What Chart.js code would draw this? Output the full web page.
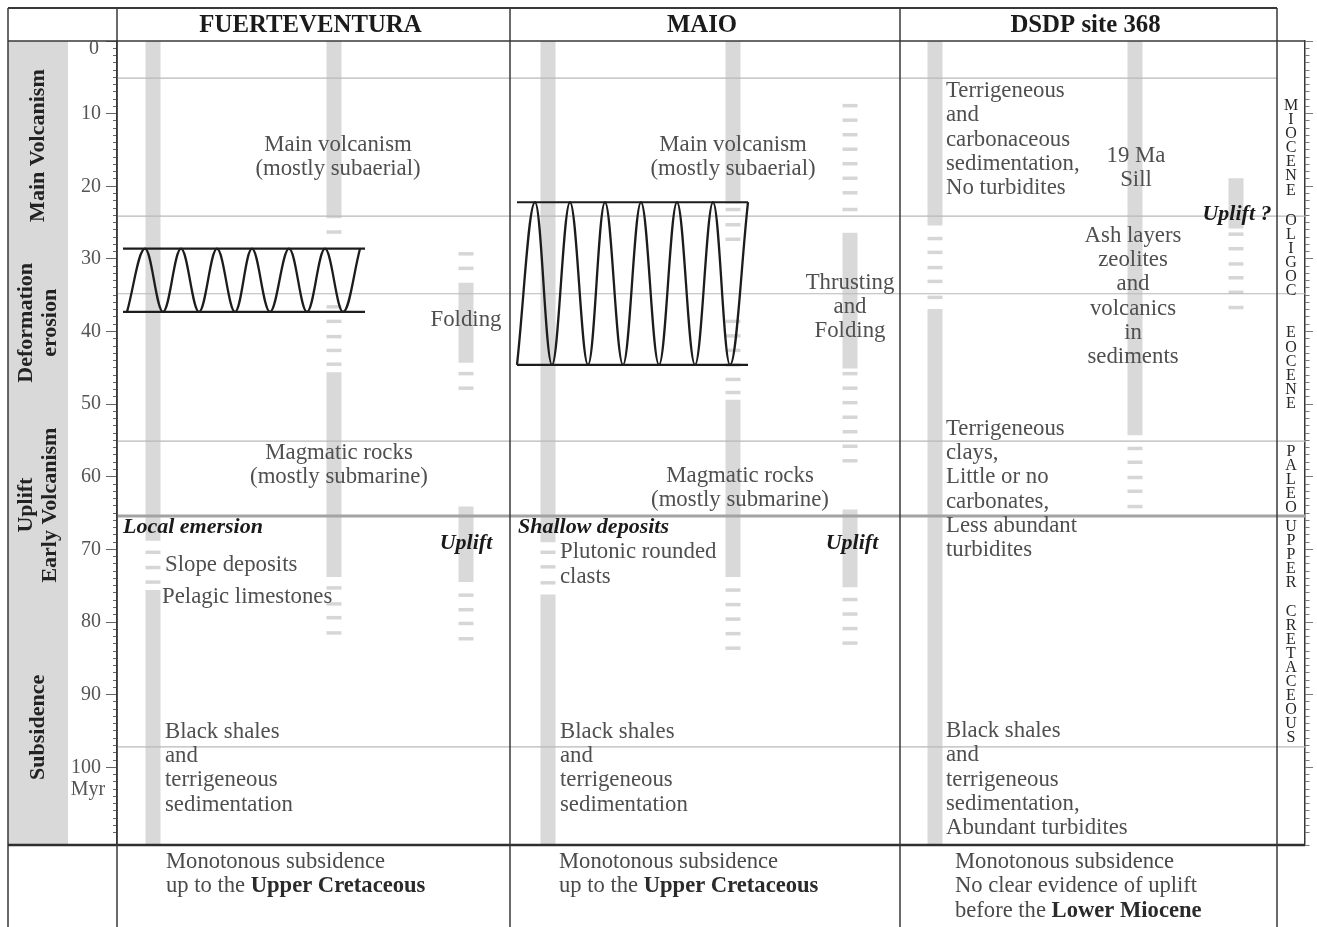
<!DOCTYPE html>
<html>
<head>
<meta charset="utf-8">
<script src="https://cdn.jsdelivr.net/npm/chart.js@4.4.0/dist/chart.umd.min.js"></script>
<style>
html,body{margin:0;padding:0;background:#fff;}
#c{display:block;}
</style>
</head>
<body>
<canvas id="c" width="1317" height="927"></canvas>
<script>
// ---------------- DATA (ages in Myr) ----------------
const columnTitles = ['FUERTEVENTURA', 'MAIO', 'DSDP site 368'];
const ageMin = 0;
const ageMax = 110.7;
const stageNames = [['Main Volcanism'], ['Deformation', 'erosion'], ['Uplift', 'Early Volcanism'], ['Subsidence']];
const stageMidAges = [14.4, 38.8, 63.9, 94.5];
const boundaryAges = [5.1, 24.1, 34.8, 55.1, 65.4, 97.2];
const epochNames = ['MIOCENE', 'OLIGOC', 'EOCENE', 'PALEO', 'UPPER CRETACEOUS'];
const epochTopAges = [5.1, 24.1, 34.8, 55.1, 65.4];
const epochBaseAges = [24.1, 34.8, 55.1, 65.4, 97.2];

// record columns: continuous intervals [top, base] and isolated (sparse) levels
const fv1Solid = [[0, 68.8], [75.6, 110.7]];
const fv1Dash = [70.4, 72.5, 74.5];
const fv2Solid = [[0, 24.4], [45.6, 73.8]];
const fv2Dash = [26.3, 36.6, 38.6, 40.7, 42.6, 44.5, 75.3, 77.5, 79.4, 81.5];
const fv3Solid = [[33.3, 44.3], [64.1, 74.5]];
const fv3Dash = [29.3, 31.3, 45.8, 47.8, 76.3, 78.3, 80.2, 82.3];
const ma1Solid = [[0, 69.0], [76.2, 110.7]];
const ma1Dash = [70.4, 72.4, 74.6];
const ma2Solid = [[0, 22.4], [49.4, 73.8]];
const ma2Dash = [23.2, 25.3, 27.3, 38.6, 40.6, 42.6, 44.6, 46.6, 48.4, 75.6, 77.6, 79.6, 81.6, 83.6];
const ma3Solid = [[26.4, 45.1], [64.5, 75.2]];
const ma3Dash = [8.9, 10.9, 12.9, 14.9, 16.9, 18.9, 20.9, 23.2, 45.8, 47.8, 49.8, 51.8, 53.8, 55.8, 57.8, 76.9, 78.9, 80.9, 82.9];
const ds1Solid = [[0, 25.4], [36.9, 110.7]];
const ds1Dash = [27.2, 29.1, 31.2, 33.1, 35.3];
const ds2Solid = [[0, 54.3]];
const ds2Dash = [56.1, 58.0, 60.1, 62.0, 64.1];
const ds3Solid = [[18.9, 25.8]];
const ds3Dash = [26.6, 28.6, 30.7, 32.6, 34.6, 36.7];

// folding symbols: top and base ages
const foldFvTop = 28.6, foldFvBase = 37.3;
const foldMaTop = 22.2, foldMaBase = 44.6;

// text notes: lines, age of first line
const notes = [
  {id: 'fvMain', lines: ['Main volcanism', '(mostly subaerial)'], age: 14.3},
  {id: 'fvFold', lines: ['Folding'], age: 38.4},
  {id: 'fvMag', lines: ['Magmatic rocks', '(mostly submarine)'], age: 56.7},
  {id: 'fvEmer', lines: ['Local emersion'], age: 66.9},
  {id: 'fvUp', lines: ['Uplift'], age: 69.1},
  {id: 'fvSlope', lines: ['Slope deposits'], age: 72.1},
  {id: 'fvPel', lines: ['Pelagic limestones'], age: 76.6},
  {id: 'fvBlack', lines: ['Black shales', 'and', 'terrigeneous', 'sedimentation'], age: 95.1},
  {id: 'maMain', lines: ['Main volcanism', '(mostly subaerial)'], age: 14.3},
  {id: 'maThrust', lines: ['Thrusting', 'and', 'Folding'], age: 33.3},
  {id: 'maMag', lines: ['Magmatic rocks', '(mostly submarine)'], age: 59.9},
  {id: 'maShallow', lines: ['Shallow deposits'], age: 66.9},
  {id: 'maUp', lines: ['Uplift'], age: 69.1},
  {id: 'maPlut', lines: ['Plutonic rounded', 'clasts'], age: 70.4},
  {id: 'maBlack', lines: ['Black shales', 'and', 'terrigeneous', 'sedimentation'], age: 95.1},
  {id: 'dsTerr', lines: ['Terrigeneous', 'and', 'carbonaceous', 'sedimentation,', 'No turbidites'], age: 6.9},
  {id: 'dsSill', lines: ['19 Ma', 'Sill'], age: 15.8},
  {id: 'dsUp', lines: ['Uplift ?'], age: 23.8},
  {id: 'dsAsh', lines: ['Ash layers', 'zeolites', 'and', 'volcanics', 'in', 'sediments'], age: 26.8},
  {id: 'dsClay', lines: ['Terrigeneous', 'clays,', 'Little or no', 'carbonates,', 'Less abundant', 'turbidites'], age: 53.4},
  {id: 'dsBlack', lines: ['Black shales', 'and', 'terrigeneous', 'sedimentation,', 'Abundant turbidites'], age: 95.0}
];

const footerNotes = [
  [[['Monotonous subsidence', false]], [['up to the ', false], ['Upper Cretaceous', true]]],
  [[['Monotonous subsidence', false]], [['up to the ', false], ['Upper Cretaceous', true]]],
  [[['Monotonous subsidence', false]], [['No clear evidence of uplift', false]], [['before the ', false], ['Lower Miocene', true]]]
];

// ---------------- LAYOUT & STYLE (layout units across the plot) ----------------
const SERIF = "'Liberation Serif', 'Times New Roman', serif";
const BAR_GREY = '#d9d9d9';
const DASH_GREY = '#d6d6d6';
const LAYOUT = {
  xMax: 1188,
  columnEdges: [0, 393, 783, 1160],
  epochEdge: 1188,
  epochLetterX: 1174,
  trackX: {fv1: 36, fv2: 217, fv3: 349, ma1: 431, ma2: 616, ma3: 733, ds1: 818, ds2: 1018, ds3: 1119},
  foldFvX: [10, 28, 46, 64, 82, 100, 118, 135, 153, 172, 190, 208, 226, 243],
  foldFvLine: [6, 248],
  foldMaX: [400, 418, 435, 453, 471, 488, 506, 524, 542, 560, 578, 596, 613, 631],
  foldMaLine: [400, 631],
  boundaryEnd: [1160, 1188, 1188, 1188, 1188, 1188],
  heavyBoundary: 4,
  noteX: {
    fvMain: [221, 'center'], fvFold: [349, 'center'], fvMag: [222, 'center'], fvEmer: [6, 'left', 'bi'],
    fvUp: [349, 'center', 'bi'], fvSlope: [48, 'left'], fvPel: [45, 'left'], fvBlack: [48, 'left'],
    maMain: [616, 'center'], maThrust: [733, 'center'], maMag: [623, 'center'], maShallow: [401, 'left', 'bi'],
    maUp: [735, 'center', 'bi'], maPlut: [443, 'left'], maBlack: [443, 'left'],
    dsTerr: [829, 'left'], dsSill: [1019, 'center'], dsUp: [1120, 'center', 'bi'], dsAsh: [1016, 'center'],
    dsClay: [829, 'left'], dsBlack: [829, 'left']
  },
  footerX: [49, 442, 838],
  lineHeight: 24.3
};

// ---------------- DATASETS ----------------
const datasets = [];
const tracks = [
  ['fv1', fv1Solid, fv1Dash], ['fv2', fv2Solid, fv2Dash], ['fv3', fv3Solid, fv3Dash],
  ['ma1', ma1Solid, ma1Dash], ['ma2', ma2Solid, ma2Dash], ['ma3', ma3Solid, ma3Dash],
  ['ds1', ds1Solid, ds1Dash], ['ds2', ds2Solid, ds2Dash], ['ds3', ds3Solid, ds3Dash]
];
tracks.forEach(([key, solid, dash]) => {
  const xu = LAYOUT.trackX[key];
  solid.forEach(r => {
    datasets.push({
      data: [{x: xu, y: r[0]}, {x: xu, y: r[1]}],
      borderColor: BAR_GREY, borderWidth: 15, borderCapStyle: 'butt',
      pointRadius: 0, tension: 0, order: 5
    });
  });
  datasets.push({
    data: dash.map(a => ({x: xu, y: a})),
    showLine: false, pointStyle: 'line', pointRadius: 7.5, pointHoverRadius: 7.5,
    pointBorderWidth: 3.5, pointBorderColor: DASH_GREY, pointBackgroundColor: DASH_GREY, order: 4
  });
});
boundaryAges.forEach((a, i) => {
  const heavy = i === LAYOUT.heavyBoundary;
  datasets.push({
    data: [{x: 0, y: a}, {x: LAYOUT.boundaryEnd[i], y: a}],
    borderColor: heavy ? '#a3a3a3' : '#b8b8b8', borderWidth: heavy ? 3 : 1.2,
    pointRadius: 0, tension: 0, order: 3
  });
});
function foldSet(xs, top, base, line) {
  datasets.push({
    data: xs.map((x, i) => ({x, y: i % 2 === 0 ? base : top})),
    borderColor: '#1c1c1c', borderWidth: 2.3, pointRadius: 0, tension: 0.37, order: 1
  });
  [top, base].forEach(a => datasets.push({
    data: [{x: line[0], y: a}, {x: line[1], y: a}],
    borderColor: '#1c1c1c', borderWidth: 2.2, pointRadius: 0, tension: 0, order: 1
  }));
}
foldSet(LAYOUT.foldFvX, foldFvTop, foldFvBase, LAYOUT.foldFvLine);
foldSet(LAYOUT.foldMaX, foldMaTop, foldMaBase, LAYOUT.foldMaLine);

// ---------------- DECORATION PLUGIN ----------------
const tablePlugin = {
  id: 'table',
  beforeDraw(chart) {
    const c = chart.ctx, A = chart.chartArea;
    c.save();
    c.fillStyle = '#fff';
    c.fillRect(0, 0, chart.width, chart.height);
    c.fillStyle = '#d9d9d9';
    c.fillRect(A.left - 109, A.top, 60, A.bottom - A.top);
    c.restore();
  },
  afterDraw(chart) {
    const c = chart.ctx, A = chart.chartArea;
    const xs = chart.scales.x, ys = chart.scales.y;
    const xp = u => xs.getPixelForValue(u);
    const yp = a => ys.getPixelForValue(a);
    const left = A.left - 109, top = A.top - 33, H = chart.height;
    c.save();
    const line = (x1, y1, x2, y2, w, col) => {
      c.beginPath(); c.lineWidth = w || 1.5; c.strokeStyle = col || '#383838';
      c.moveTo(x1, y1); c.lineTo(x2, y2); c.stroke();
    };
    line(left, top, xp(LAYOUT.columnEdges[3]), top, 2);
    line(left, top, left, H);
    line(left, A.top, A.right, A.top, 1.6);
    line(left, A.bottom, A.right, A.bottom, 2.6, '#2e2e2e');
    line(A.left, top, A.left, H);
    LAYOUT.columnEdges.slice(1).forEach(e => line(xp(e), top, xp(e), H, 1.5));
    // header titles
    c.fillStyle = '#1b1b1b';
    c.font = 'bold 24.8px ' + SERIF;
    c.textAlign = 'center'; c.textBaseline = 'middle';
    columnTitles.forEach((t, i) => {
      const cx = (xp(LAYOUT.columnEdges[i]) + xp(LAYOUT.columnEdges[i + 1])) / 2 - 3;
      c.fillText(t, cx, (top + A.top) / 2 + 1);
    });
    // stage labels (rotated)
    c.font = 'bold 22px ' + SERIF;
    c.fillStyle = '#222';
    stageNames.forEach((lines, i) => {
      const cy = yp(stageMidAges[i]);
      const cx = left + 30;
      lines.forEach((t, j) => {
        const off = (j - (lines.length - 1) / 2) * 24;
        c.save();
        c.translate(cx + off, cy);
        c.rotate(-Math.PI / 2);
        c.fillText(t, 0, 0);
        c.restore();
      });
    });
    // extra tick text
    c.font = '20px ' + SERIF;
    c.fillStyle = '#555';
    c.textAlign = 'right';
    c.fillText('0', A.left - 18, yp(0) + 8);
    c.textAlign = 'center';
    c.fillText('Myr', A.left - 29, yp(100) + 22);
    // epoch letters
    c.font = '16px ' + SERIF;
    c.fillStyle = '#262626';
    epochNames.forEach((n, i) => {
      const yc = (yp(epochTopAges[i]) + yp(epochBaseAges[i])) / 2;
      const chars = [...n];
      const step = 14.1;
      const y0 = yc - (chars.length - 1) * step / 2;
      chars.forEach((ch, j) => c.fillText(ch, xp(LAYOUT.epochLetterX), y0 + j * step + 1));
    });
    // notes
    notes.forEach(n => {
      const [xu, align, style] = LAYOUT.noteX[n.id];
      if (style === 'bi') { c.font = 'italic bold 22px ' + SERIF; c.fillStyle = '#1a1a1a'; }
      else { c.font = '22.8px ' + SERIF; c.fillStyle = '#4f4f4f'; }
      c.textAlign = align;
      n.lines.forEach((t, j) => c.fillText(t, xp(xu), yp(n.age) + j * LAYOUT.lineHeight));
    });
    // footer
    c.textAlign = 'left';
    footerNotes.forEach((lines, i) => {
      let y = A.bottom + 17;
      lines.forEach(segs => {
        let x = xp(LAYOUT.footerX[i]);
        segs.forEach(([t, b]) => {
          c.font = (b ? 'bold ' : '') + '22.6px ' + SERIF;
          c.fillStyle = b ? '#2a2a2a' : '#4a4a4a';
          c.fillText(t, x, y);
          x += c.measureText(t).width;
        });
        y += 24.5;
      });
    });
    c.restore();
  }
};

// ---------------- CHART ----------------
new Chart(document.getElementById('c').getContext('2d'), {
  type: 'line',
  data: {datasets},
  options: {
    responsive: false,
    animation: false,
    devicePixelRatio: 1,
    events: [],
    layout: {padding: {top: 41, bottom: 82, left: 8, right: 0}},
    plugins: {legend: {display: false}, tooltip: {enabled: false}},
    scales: {
      x: {type: 'linear', min: 0, max: LAYOUT.xMax, display: false},
      y: {
        type: 'linear', reverse: true, min: ageMin, max: ageMax, position: 'left',
        afterFit(s) { s.width = 109; },
        ticks: {
          stepSize: 1, autoSkip: false, padding: 5, color: '#555',
          font: {family: SERIF, size: 20},
          callback: v => (v > 0 && v % 10 === 0) ? String(v) : ''
        },
        grid: {
          drawOnChartArea: false, tickLength: 11, tickColor: '#666', tickWidth: 1,
          tickBorderDash: ctx => (ctx.tick && ctx.tick.value % 10 === 0) ? [] : [0, 7, 4, 30]
        },
        border: {display: true, color: '#383838', width: 1.5}
      },
      y2: {
        type: 'linear', reverse: true, min: ageMin, max: ageMax, position: 'right',
        afterFit(s) { s.width = 12; },
        ticks: {stepSize: 1, autoSkip: false, padding: 0, callback: () => ''},
        grid: {
          drawOnChartArea: false, tickLength: 8, tickColor: '#777', tickWidth: 1,
          tickBorderDash: ctx => (ctx.tick && ctx.tick.value % 10 === 0) ? [] : [4, 30]
        },
        border: {display: true, color: '#383838', width: 1.5}
      }
    }
  },
  plugins: [tablePlugin]
});
</script>
</body>
</html>
